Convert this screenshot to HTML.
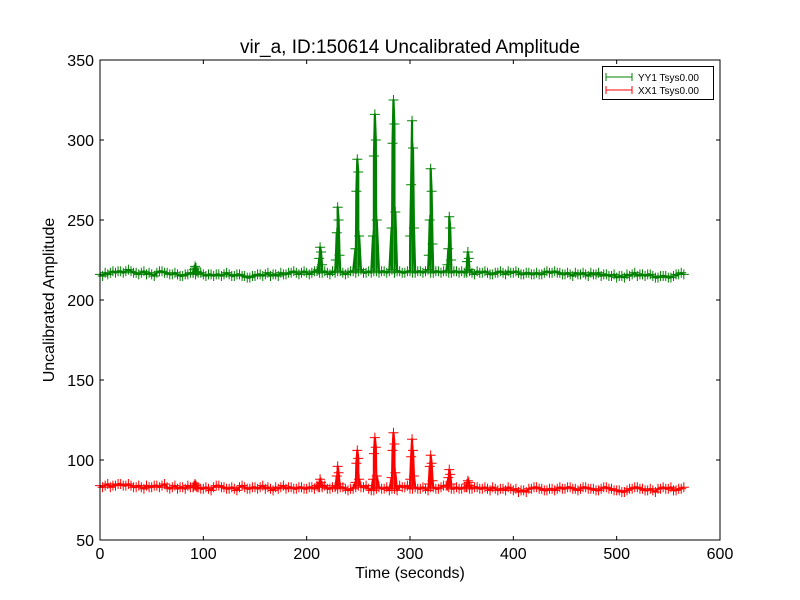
<!DOCTYPE html>
<html><head><meta charset="utf-8"><style>
html,body{margin:0;padding:0;background:#fff;}
svg{display:block;font-family:"Liberation Sans","DejaVu Sans",sans-serif;}
</style></head><body>
<svg id="chart" width="800" height="600" viewBox="0 0 800 600">
<rect x="0" y="0" width="800" height="600" fill="#fff"/>
<text x="410" y="53" font-size="19" text-anchor="middle">vir_a, ID:150614 Uncalibrated Amplitude</text>
<g id="plot"></g>
<text x="410" y="578" font-size="16" text-anchor="middle">Time (seconds)</text>
<text x="54" y="300" font-size="16" text-anchor="middle" transform="rotate(-90 54 300)">Uncalibrated Amplitude</text>
</svg>
<script>
const xTicks = [0,100,200,300,400,500,600];
const yTicks = [50,100,150,200,250,300,350];
const yyBase = [216,217,217,217,218,218,218,217,217,216,216,217,218,217,216,216,215,216,217,217,216,216,215,216,216,216,215,216,215,214,215,216,216,215,216,217,216,217,217,217,217,217,218,217,217,218,218,217,217,218,218,217,218,218,217,218,218,217,218,217,218,217,218,218,217,218,217,218,217,218,218,217,217,218,217,217,216,217,217,218,217,217,216,217,216,216,217,217,218,217,216,216,217,216,216,217,216,215,216,215,214,215,216,216,215,216,216,215,214,215,214,215,216,216];
const yyBase2 = [215,216,218,218,217,219,217,216,218,217,215,218,217,216,217,215,216,217,216,217,215,216,216,215,217,215,216,215,214,215,216,215,217,216,215,216,217,218,216,218,216,218,217,218,216,217,218,216,218,217,219,217,217,218,218,217,219,218,217,218,217,218,217,219,217,218,218,217,218,217,217,218,216,217,218,216,217,218,216,217,218,216,217,216,217,216,218,217,217,216,217,215,216,217,215,216,217,216,215,216,215,214,215,217,216,215,216,214,215,215,214,216,217];
const xxBase = [84,84,83,84,85,84,84,83,83,84,83,84,84,83,83,82,83,84,83,83,82,82,83,84,83,82,82,83,83,82,83,83,82,82,83,83,82,83,82,83,82,83,84,83,82,83,82,83,81,82,84,83,82,81,83,82,81,82,84,83,82,83,82,82,83,82,83,84,82,83,82,83,82,83,82,82,83,81,82,83,81,80,81,82,83,82,81,82,81,83,82,83,82,82,83,82,81,82,83,82,81,80,81,82,83,82,81,81,82,83,82,81,82,83];
const xxBase2 = [83,85,84,85,84,85,83,84,82,83,84,83,85,82,84,83,82,83,84,82,83,81,84,83,82,83,81,84,82,83,82,84,83,81,82,84,83,82,83,82,83,82,83,84,82,83,83,82,82,83,83,84,81,82,82,83,82,81,83,84,82,82,83,81,83,82,84,83,82,82,83,82,83,82,83,81,82,82,81,82,82,81,80,82,83,82,81,82,82,82,83,82,81,83,82,82,81,83,82,81,81,80,82,83,82,81,82,80,82,82,83,81,82];
const peakTimes = [92,213,230,249,266,284,302,320,338,356];
const yyPeaks = [[217,219,221,220,218],[219,226,233,230,222],[225,242,258,250,228],[232,268,288,280,240],[240,290,316,300,250],[245,298,325,310,255],[240,272,312,295,245],[228,250,282,268,235],[222,232,252,245,225],[218,224,230,226,219]];
const xxPeaks = [[83,84,85,84,83],[83,85,88,86,84],[84,90,96,92,85],[86,98,106,101,88],[88,104,114,108,90],[89,106,117,110,92],[88,102,113,106,90],[85,96,103,98,87],[84,89,94,91,85],[83,85,87,86,84]];
const peakOffsets = [-2,-1,0,1,2];

const X0=100,X1=720,Y0=540,Y1=60;
const sx=v=>X0+(v-0)/(600-0)*(X1-X0);
const sy=v=>Y0-(v-50)/(350-50)*(Y0-Y1);
const NS="http://www.w3.org/2000/svg";
const plot=document.getElementById('plot');
function mk(tag,attrs,parent){const e=document.createElementNS(NS,tag);for(const k in attrs)e.setAttribute(k,attrs[k]);(parent||plot).appendChild(e);return e;}

function series(base,base2,peaks){
  const pts=base.map((v,i)=>[i*5,v]);
  base2.forEach((v,i)=>pts.push([i*5+2.5,v]));
  peaks.forEach((arr,j)=>arr.forEach((v,k)=>pts.push([peakTimes[j]+peakOffsets[k]*0.9,v])));
  pts.sort((a,b)=>a[0]-b[0]);
  return pts;
}
function draw(pts,color,name){
  const g=mk('g',{});
  
  
  const line=mk('polyline',{points:pts.map(p=>sx(p[0])+','+sy(p[1])).join(' '),fill:'none',stroke:color,'stroke-width':2.2,'stroke-linejoin':'round'},g);
  
  
  let d='';
  pts.forEach(p=>{const x=sx(p[0]),y=sy(p[1]);d+=`M${x-5},${y}H${x+5}M${x},${y-5}V${y+5}`;});
  const m=mk('path',{d:d,stroke:color,'stroke-width':1,fill:'none'},g);
  
  
}
draw(series(yyBase,yyBase2,yyPeaks),'#008000','yy1-series');
draw(series(xxBase,xxBase2,xxPeaks),'#ff0000','xx1-series');

const fr=mk('rect',{x:X0,y:Y1,width:X1-X0,height:Y0-Y1,fill:'none',stroke:'#000','stroke-width':1});


xTicks.forEach(t=>{
  const x=sx(t);
  mk('line',{x1:x,x2:x,y1:Y0,y2:Y0-4,stroke:'#000'});
  mk('line',{x1:x,x2:x,y1:Y1,y2:Y1+4,stroke:'#000'});
  const tx=mk('text',{x:x,y:Y0+19,'font-size':16,'text-anchor':'middle'});
  tx.textContent=t;
  
  
});
yTicks.forEach(t=>{
  const y=sy(t);
  mk('line',{x1:X0,x2:X0+4,y1:y,y2:y,stroke:'#000'});
  mk('line',{x1:X1,x2:X1-4,y1:y,y2:y,stroke:'#000'});
  const tx=mk('text',{x:X0-6,y:y+6,'font-size':16,'text-anchor':'end'});
  tx.textContent=t;
  
  
});

const lg=mk('g',{});


mk('rect',{x:602.5,y:66.5,width:111,height:33,fill:'#fff',stroke:'#000'},lg);
[['YY1 Tsys0.00','#008000',77],['XX1 Tsys0.00','#ff0000',90]].forEach(e=>{
  const ge=mk('g',{},lg);
  
  
  mk('line',{x1:606,x2:632,y1:e[2],y2:e[2],stroke:e[1]},ge);
  mk('path',{d:`M606,${e[2]-4}V${e[2]+4}M632,${e[2]-4}V${e[2]+4}`,stroke:e[1]},ge);
  const t=mk('text',{x:638,y:e[2]+4,'font-size':10},ge);
  t.textContent=e[0];
});
</script>
</body></html>
